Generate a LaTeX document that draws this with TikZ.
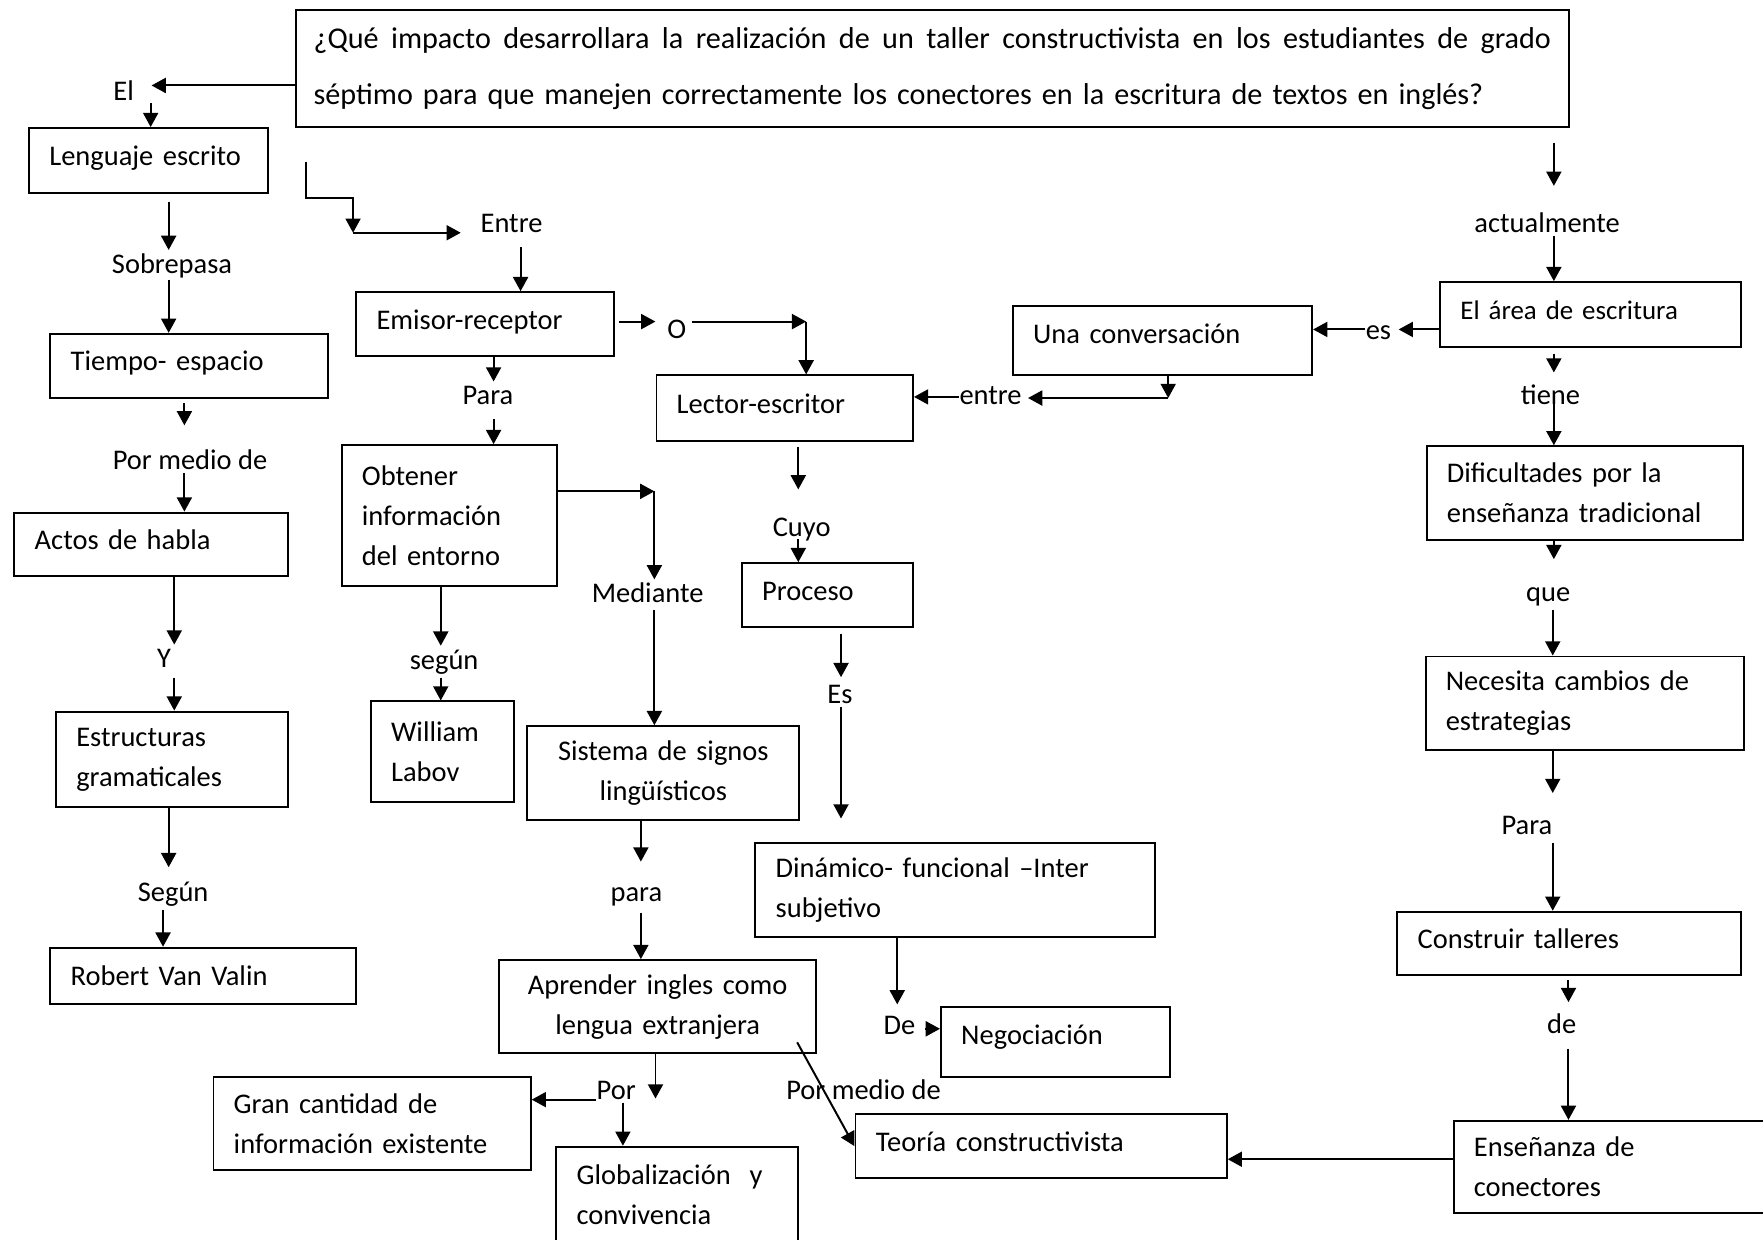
\documentclass[tikz,border=0pt]{standalone}
\usepackage{fontspec}
\setmainfont{Carlito}
\usetikzlibrary{arrows.meta}

\begin{document}
\begin{tikzpicture}[x=0.01cm, y=-0.01cm,
  every node/.style={font=\fontsize{7.2}{10.1}\selectfont},
  caja/.style={draw, line width=0.5pt, anchor=north west, align=left, inner xsep=0.18cm, inner ysep=0pt},
  una/.style={text height=0.17cm, text depth=0.08cm},
  etq/.style={inner sep=0pt, text height=0.20cm, text depth=0.02cm},
  flecha/.style={line width=0.5pt, -{Triangle[length=3.6pt, width=3.8pt]}}]
\useasboundingbox (0,0) rectangle (1568,1102);
\node[caja, text width=11cm, minimum height=1.04cm, inner xsep=0.16cm, font=\fontsize{7.63}{14.2}\selectfont] (pregunta) at (262,8) {\hbox to 11cm{\spaceskip=0.226em plus 1fil\relax ¿Qué impacto desarrollara la realización de un taller constructivista en los estudiantes de grado}\\séptimo para que manejen correctamente los conectores en la escritura de textos en inglés?};
\node[caja, una, text width=1.76cm, minimum height=0.58cm] (lenguaje) at (25,113) {Lenguaje escrito};
\node[caja, una, text width=2.11cm, minimum height=0.57cm] (tiempo) at (44,296) {Tiempo- espacio};
\node[caja, una, text width=2.07cm, minimum height=0.56cm] (actos) at (12,455) {Actos de habla};
\node[caja, text width=1.70cm, minimum height=0.85cm] (estructuras) at (49,632) {Estructuras\\gramaticales};
\node[caja, text width=2.36cm, minimum height=0.50cm] (robert) at (44,842) {Robert Van Valin};
\node[caja, una, text width=1.93cm, minimum height=0.57cm] (emisor) at (316,259) {Emisor-receptor};
\node[caja, text width=1.55cm, minimum height=1.25cm] (obtener) at (303,395) {Obtener\\información\\del entorno};
\node[caja, text width=0.91cm, minimum height=0.89cm] (william) at (329,623) {William\\Labov};
\node[caja, una, text width=1.92cm, minimum height=0.58cm] (lector) at (583,333) {Lector-escritor};
\node[caja, una, text width=1.16cm, minimum height=0.57cm] (proceso) at (659,500) {Proceso};
\node[caja, align=center, text width=2.06cm, minimum height=0.83cm] (sistema) at (468,645) {Sistema de signos\\lingüísticos};
\node[caja, text width=3.19cm, minimum height=0.83cm] (dinamico) at (671,749) {Dinámico- funcional –Inter\\subjetivo};
\node[caja, una, text depth=0.12cm, text width=1.68cm, minimum height=0.62cm] (negociacion) at (836,895) {Negociación};
\node[caja, align=center, text width=2.46cm, minimum height=0.83cm] (aprender) at (443,853) {Aprender ingles como\\lengua extranjera};
\node[caja, text width=2.46cm, minimum height=0.83cm] (gran) at (189,957) {Gran cantidad de\\información existente};
\node[caja, text width=1.79cm, minimum height=0.85cm] (globalizacion) at (494,1019) {Globalización\ \ y\\convivencia};
\node[caja, una, text width=2.94cm, minimum height=0.57cm] (teoria) at (760,990) {Teoría constructivista};
\node[caja, una, text depth=0.12cm, text width=2.30cm, minimum height=0.62cm] (conversacion) at (900,271) {Una conversación};
\node[caja, una, text width=2.31cm, minimum height=0.58cm, font=\fontsize{6.8}{10.1}\selectfont] (area) at (1280,250) {El área de escritura};
\node[caja, text width=2.45cm, minimum height=0.83cm] (dificultades) at (1268,396) {Dificultades por la\\enseñanza tradicional};
\node[caja, text width=2.47cm, minimum height=0.83cm] (necesita) at (1267,583) {Necesita cambios de\\estrategias};
\node[caja, una, text width=2.69cm, minimum height=0.56cm] (construir) at (1242,810) {Construir talleres};
\node[caja, text width=2.64cm, minimum height=0.82cm] (ensenanza) at (1292,996) {Enseñanza de\\conectores};
\node[etq] (el) at (110,80) {El};
\node[etq] (sobrepasa) at (153,234) {Sobrepasa};
\node[etq] (pormedio1) at (169,409) {Por medio de};
\node[etq] (ylab) at (146,585) {Y};
\node[etq] (segun1) at (154,793) {Según};
\node[etq] (entre1) at (455,198) {Entre};
\node[etq] (olab) at (602,292) {O};
\node[etq] (para1) at (434,351) {Para};
\node[etq] (mediante) at (576,527) {Mediante};
\node[etq] (segun2) at (395,586) {según};
\node[etq] (cuyo) at (713,468) {Cuyo};
\node[etq] (es1) at (747,617) {Es};
\node[etq] (para2) at (566,793) {para};
\node[etq] (de1) at (800,911) {De};
\node[etq] (por) at (548,969) {Por};
\node[etq] (pormedio2) at (768,969) {Por medio de};
\node[etq] (entre2) at (881,351) {entre};
\node[etq] (es2) at (1226,293) {es};
\node[etq] (actualmente) at (1376,198) {actualmente};
\node[etq] (tiene) at (1379,351) {tiene};
\node[etq] (que) at (1377,526) {que};
\node[etq] (para3) at (1358,733) {Para};
\node[etq] (de2) at (1389,910) {de};
\coordinate (codo1) at (272,144);
\coordinate (codo2) at (314,176);
\coordinate (codo3) at (314,207);
\coordinate (codo4) at (717,286);
\coordinate (codo5) at (582,437);
\coordinate (codo6) at (1039,354);
\coordinate (punta) at (583,977);
\coordinate (diag) at (709,927);
\draw[flecha, shorten >=0.15cm] (pregunta.west |- 0,76) -- (el.east |- 0,76);
\draw[flecha] (el.south -| 134,0) -- (lenguaje.north -| 134,0);
\draw[flecha, shorten <=0.07cm] (lenguaje.south -| 150,0) -- (sobrepasa.north -| 150,0);
\draw[flecha, shorten <=0.03cm] (sobrepasa.south -| 150,0) -- (tiempo.north -| 150,0);
\draw[flecha, shorten <=0.04cm, shorten >=0.19cm] (tiempo.south -| 164,0) -- (pormedio1.north -| 164,0);
\draw[flecha] (pormedio1.south -| 164,0) -- (actos.north -| 164,0);
\draw[flecha] (actos.south -| 155,0) -- (ylab.north -| 155,0);
\draw[flecha, shorten <=0.06cm] (ylab.south -| 155,0) -- (estructuras.north -| 155,0);
\draw[flecha, shorten >=0.10cm] (estructuras.south -| 150,0) -- (segun1.north -| 150,0);
\draw[flecha, shorten <=0.05cm] (segun1.south -| 145,0) -- (robert.north -| 145,0);
\draw[flecha] (codo1) |- (codo2) -- (codo3);
\draw[flecha, shorten >=0.17cm] (codo3) -- (entre1.west |- codo3);
\draw[flecha, shorten <=0.10cm] (entre1.south -| 463,0) -- (emisor.north -| 463,0);
\draw[flecha] (emisor.south -| 439,0) -- (para1.north -| 439,0);
\draw[flecha, shorten <=0.10cm] (para1.south -| 439,0) -- (obtener.north -| 439,0);
\draw[flecha, shorten <=0.04cm, shorten >=0.10cm] (emisor.east |- codo4) -- (olab.west |- codo4);
\draw[flecha, shorten <=0.04cm] (olab.east |- codo4) -- (codo4);
\draw[flecha] (codo4) -- (lector.north -| codo4);
\draw[flecha] (obtener.east |- codo5) -- (codo5);
\draw[flecha] (codo5) -- (mediante.north -| codo5);
\draw[flecha] (obtener.south -| 392,0) -- (segun2.north -| 392,0);
\draw[flecha, shorten <=0.05cm] (segun2.south -| 392,0) -- (william.north -| 392,0);
\draw[flecha, shorten <=0.04cm] (mediante.south -| codo5) -- (sistema.north -| codo5);
\draw[flecha, shorten <=0.05cm, shorten >=0.21cm] (lector.south -| 710,0) -- (cuyo.north -| 710,0);
\draw[flecha] (cuyo.south -| 710,0) -- (proceso.north -| 710,0);
\draw[flecha, shorten <=0.05cm, shorten >=0.03cm] (proceso.south -| 748,0) -- (es1.north -| 748,0);
\draw[flecha, shorten >=0.21cm] (es1.south -| 748,0) -- (dinamico.north -| 748,0);
\draw[flecha, shorten >=0.15cm] (sistema.south -| 570,0) -- (para2.north -| 570,0);
\draw[flecha, shorten <=0.07cm] (para2.south -| 570,0) -- (aprender.north -| 570,0);
\draw[flecha, shorten >=0.06cm] (dinamico.south -| 798,0) -- (de1.north -| 798,0);
\draw[flecha, shorten <=0.08cm] (de1.east |- 0,915) -- (negociacion.west |- 0,915);
\draw[flecha] (aprender.south -| punta) -- (punta);
\draw[flecha] (por.west |- 0,978) -- (gran.east |- 0,978);
\draw[flecha] (por.south -| 554,0) -- (globalizacion.north -| 554,0);
\draw[flecha] (diag) -- (teoria.west);
\draw[flecha] (ensenanza.west |- 0,1031) -- (teoria.east |- 0,1031);
\draw[flecha, shorten <=0.13cm, shorten >=0.21cm] (pregunta.south -| 1382,0) -- (actualmente.north -| 1382,0);
\draw[flecha] (actualmente.south -| 1382,0) -- (area.north -| 1382,0);
\draw[flecha, shorten >=0.06cm] (area.west |- 0,293) -- (es2.east |- 0,293);
\draw[flecha] (es2.west |- 0,293) -- (conversacion.east |- 0,293);
\draw[flecha] (conversacion.south -| codo6) -- (codo6);
\draw[flecha, shorten >=0.05cm] (codo6) -- (entre2.east |- codo6);
\draw[flecha] (entre2.west |- 0,353) -- (lector.east |- 0,353);
\draw[flecha, shorten <=0.05cm, shorten >=0.08cm] (area.south -| 1382,0) -- (tiene.north -| 1382,0);
\draw[flecha, shorten <=0.05cm] (tiene.center -| 1382,0) -- (dificultades.north -| 1382,0);
\draw[flecha, shorten >=0.17cm] (dificultades.south -| 1382,0) -- (que.north -| 1382,0);
\draw[flecha, shorten <=0.05cm] (que.south -| 1381,0) -- (necesita.north -| 1381,0);
\draw[flecha, shorten >=0.16cm] (necesita.south -| 1381,0) -- (para3.north -| 1381,0);
\draw[flecha, shorten <=0.05cm] (para3.south -| 1381,0) -- (construir.north -| 1381,0);
\draw[flecha, shorten <=0.04cm, shorten >=0.07cm] (construir.south -| 1395,0) -- (de2.north -| 1395,0);
\draw[flecha, shorten <=0.11cm] (de2.south -| 1395,0) -- (ensenanza.north -| 1395,0);
\end{tikzpicture}
\end{document}
